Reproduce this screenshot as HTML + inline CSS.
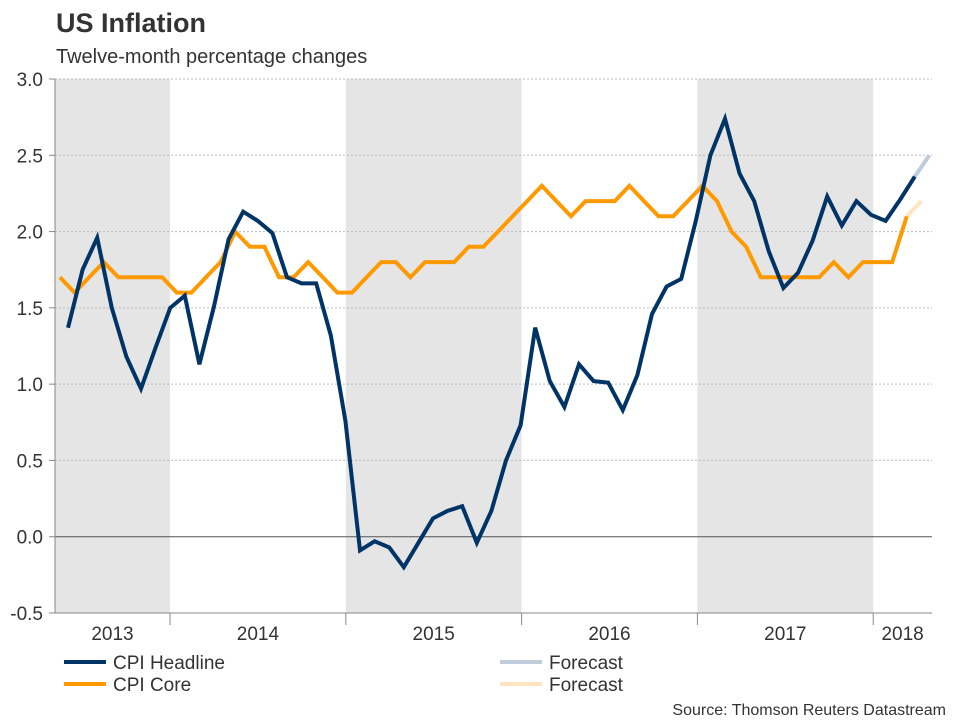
<!DOCTYPE html>
<html><head><meta charset="utf-8"><style>
body{margin:0;background:#fff;font-family:"Liberation Sans",Arial,sans-serif;}
svg text{font-family:"Liberation Sans",Arial,sans-serif;}
</style></head><body>
<svg id="c" width="960" height="720" xmlns="http://www.w3.org/2000/svg">
<text x="56" y="32" font-size="27" font-weight="bold" fill="#333">US Inflation</text>
<text x="56" y="63" font-size="20" fill="#333">Twelve-month percentage changes</text>
<g id="bands"></g><g id="grid"></g><g id="axes"></g><g id="lines"></g>
<g>
<line x1="64" y1="662" x2="106" y2="662" stroke="#003366" stroke-width="4"/>
<text x="113" y="669" font-size="19" fill="#333">CPI Headline</text>
<line x1="64" y1="684" x2="106" y2="684" stroke="#FF9900" stroke-width="4"/>
<text x="113" y="691" font-size="19" fill="#333">CPI Core</text>
<line x1="500" y1="662" x2="542" y2="662" stroke="#BFCCDC" stroke-width="4"/>
<text x="549" y="669" font-size="19" fill="#333">Forecast</text>
<line x1="500" y1="684" x2="542" y2="684" stroke="#FFE4BF" stroke-width="4"/>
<text x="549" y="691" font-size="19" fill="#333">Forecast</text>
</g>
<text x="946" y="715" font-size="16" fill="#333" text-anchor="end">Source: Thomson Reuters Datastream</text>
</svg>
<script>
const headline=[1.37,1.75,1.96,1.5,1.18,0.97,1.24,1.5,1.58,1.13,1.51,1.95,2.13,2.07,1.99,1.70,1.66,1.66,1.32,0.76,-0.09,-0.03,-0.07,-0.20,-0.04,0.12,0.17,0.20,-0.04,0.17,0.50,0.73,1.37,1.02,0.85,1.13,1.02,1.01,0.83,1.06,1.46,1.64,1.69,2.07,2.50,2.74,2.38,2.20,1.87,1.63,1.73,1.94,2.23,2.04,2.20,2.11,2.07,2.21,2.36];
const headlineForecast=[2.36,2.5];
const core=[1.7,1.6,1.7,1.8,1.7,1.7,1.7,1.7,1.6,1.6,1.7,1.8,2.0,1.9,1.9,1.7,1.7,1.8,1.7,1.6,1.6,1.7,1.8,1.8,1.7,1.8,1.8,1.8,1.9,1.9,2.0,2.1,2.2,2.3,2.2,2.1,2.2,2.2,2.2,2.3,2.2,2.1,2.1,2.2,2.3,2.2,2.0,1.9,1.7,1.7,1.7,1.7,1.7,1.8,1.7,1.8,1.8,1.8,2.1];
const coreForecast=[2.1,2.2];
const yTicks=[3.0,2.5,2.0,1.5,1.0,0.5,0.0,-0.5];
const years=["2013","2014","2015","2016","2017","2018"];
const NS="http://www.w3.org/2000/svg";
const L=55,R=932,T=79,B=613,MW=14.6;
const y=v=>T+(3.0-v)/3.5*(B-T);
const xH=i=>68+i*MW, xC=i=>60+i*MW;
const YW=14.65*12;
const yb=[L,170,170+YW,170+YW*2,170+YW*3,170+YW*4,R];
function mk(tag,attrs,parent){const e=document.createElementNS(NS,tag);for(const k in attrs)e.setAttribute(k,attrs[k]);document.getElementById(parent).appendChild(e);return e;}
for(let k=0;k<years.length;k++){
 if(k%2===0){const r=mk('rect',{x:yb[k],y:T,width:yb[k+1]-yb[k],height:B-T,fill:'#E5E5E5'},'bands');
 
 }
 const t=mk('text',{x:(yb[k]+yb[k+1])/2,y:640,'font-size':19,fill:'#333','text-anchor':'middle'},'axes');t.textContent=years[k];
 
 
 if(k>0){const tk=mk('line',{x1:yb[k],x2:yb[k],y1:B,y2:625,stroke:'#888'},'axes');
 
 }
}
yTicks.forEach(v=>{
 const g=mk('line',{x1:L,x2:R,y1:y(v),y2:y(v),stroke:v===0?'#555':'#bbb','stroke-dasharray':v===0?'':'2,2'},'grid');
 
 
 const tk=mk('line',{x1:L-6,x2:L,y1:y(v),y2:y(v),stroke:'#888'},'axes');
 
 
 const t=mk('text',{x:43,y:y(v)+7,'font-size':19,fill:'#333','text-anchor':'end'},'axes');t.textContent=v.toFixed(1);
 
 
});
const ax=mk('line',{x1:L,x2:L,y1:T,y2:B,stroke:'#888'},'axes');


const bx=mk('line',{x1:L,x2:R,y1:B,y2:B,stroke:'#888'},'axes');


function line(vals,fx,off,color,name){
 const d=vals.map((v,i)=>(i?'L':'M')+fx(i+off).toFixed(1)+','+y(v).toFixed(1)).join(' ');
 const p=mk('path',{d:d,fill:'none',stroke:color,'stroke-width':4,'stroke-linejoin':'miter'},'lines');
 
 
}
line(headlineForecast,xH,headline.length-1,'#BFCCDC','headline-forecast-line');
line(coreForecast,xC,core.length-1,'#FFE4BF','core-forecast-line');
line(core,xC,0,'#FF9900','cpi-core-line');
line(headline,xH,0,'#003366','cpi-headline-line');
</script>
</body></html>
